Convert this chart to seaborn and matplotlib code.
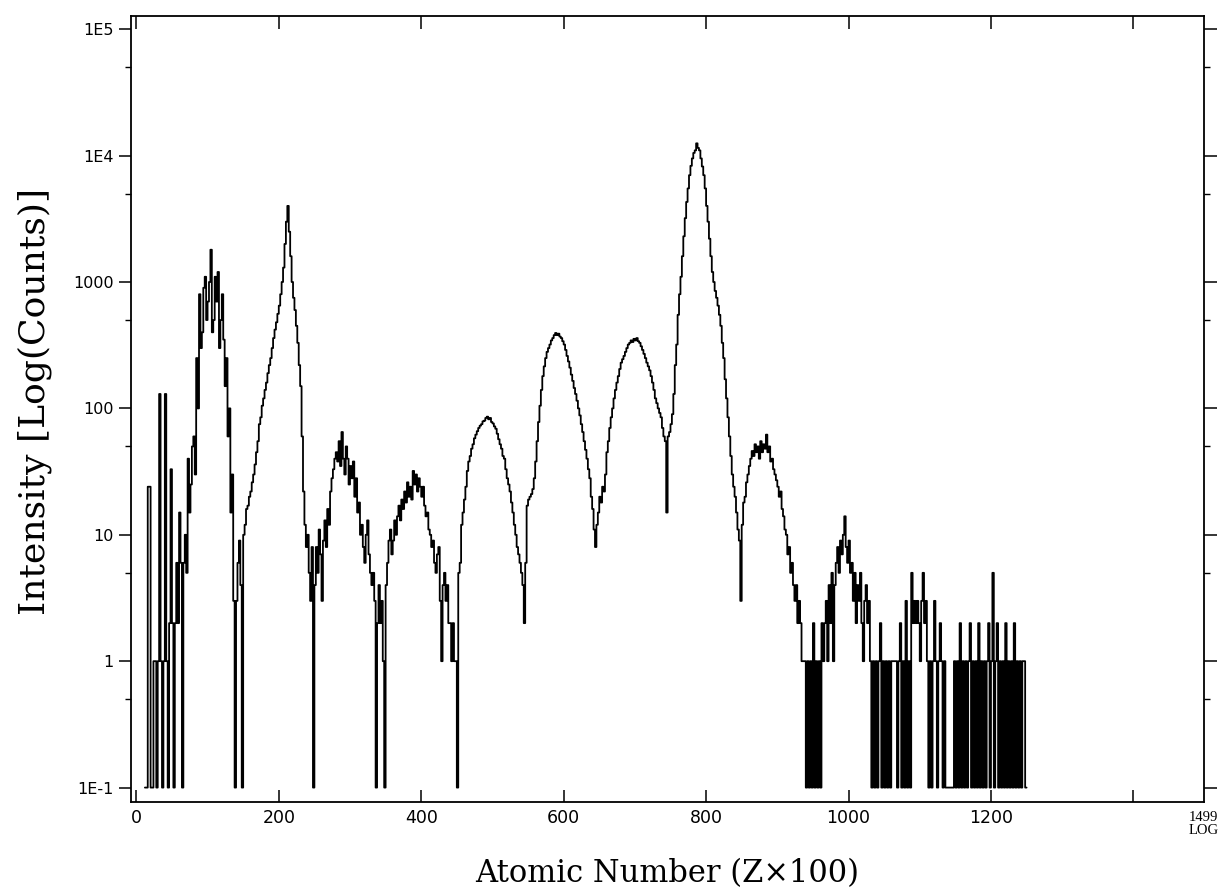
import numpy as np
import pandas as pd
import seaborn as sns
import matplotlib.pyplot as plt
from matplotlib.ticker import LogLocator, FixedLocator, NullLocator
from matplotlib.transforms import blended_transform_factory

# spectrum counts in 2-channel bins starting at channel 12 (0 counts sit on the 1E-1 floor)
CHANNEL_START = 12
BIN_WIDTH = 2
counts_0 = [0, 0, 24, 24, 0, 0, 1, 1, 0, 1, 130, 1, 0, 1, 130, 1, 0, 2, 33, 2,
            0, 2, 6, 2, 15, 6, 0, 6, 10, 5, 40, 15, 25, 50, 60, 30, 250, 100, 800, 300,
            400, 900, 1100, 500, 700, 1000, 1800, 400, 500, 1100]                   # ch 12-110
counts_1 = [700, 1200, 300, 500, 800, 350, 150, 250, 60, 100, 15, 30, 3, 0, 3, 6, 9, 4, 0, 10,
            12, 16, 17, 20, 22, 26, 30, 36, 45, 55, 75, 85, 105, 120, 140, 160, 190, 220, 250, 300,
            360, 420, 480, 560, 650, 800, 1000, 1300, 2000, 3000]                   # ch 112-210
counts_2 = [4000, 2500, 1600, 1000, 750, 600, 450, 330, 220, 150, 60, 22, 12, 8, 10, 5, 3, 8, 0, 4,
            8, 5, 11, 7, 3, 9, 13, 8, 16, 12, 22, 28, 33, 40, 45, 38, 55, 35, 65, 40,
            30, 50, 40, 25, 35, 28, 38, 20, 28, 15]                                 # ch 212-310
counts_3 = [18, 10, 12, 8, 6, 10, 13, 7, 5, 4, 5, 3, 0, 2, 4, 2, 3, 1, 0, 4,
            6, 9, 11, 7, 9, 13, 10, 14, 17, 13, 19, 16, 22, 18, 26, 20, 24, 19, 32, 25,
            30, 22, 28, 24, 20, 24, 17, 14, 15, 11]                                 # ch 312-410
counts_4 = [10, 8, 9, 6, 5, 7, 8, 3, 1, 4, 5, 3, 4, 2, 2, 1, 2, 1, 1, 0,
            5, 6, 12, 15, 19, 24, 32, 38, 42, 48, 52, 58, 62, 66, 70, 73, 75, 79, 80, 84,
            86, 82, 84, 78, 76, 72, 69, 63, 57, 52]                                 # ch 412-510
counts_5 = [48, 42, 40, 33, 28, 25, 22, 18, 15, 12, 10, 8, 7, 6, 5, 4, 2, 6, 17, 19,
            20, 21, 23, 28, 38, 55, 78, 105, 140, 180, 215, 250, 280, 300, 320, 345, 360, 380, 395, 380,
            390, 370, 360, 340, 320, 290, 260, 235, 210, 185]                       # ch 512-610
counts_6 = [165, 145, 130, 115, 100, 88, 75, 65, 55, 47, 40, 33, 28, 20, 16, 11, 8, 12, 15, 20,
            18, 24, 22, 30, 45, 55, 70, 85, 100, 120, 140, 160, 180, 205, 230, 245, 260, 280, 300, 320,
            330, 345, 335, 355, 345, 360, 340, 330, 310, 290]                       # ch 612-710
counts_7 = [270, 250, 230, 215, 200, 180, 160, 140, 120, 110, 100, 92, 85, 70, 60, 55, 15, 60, 65, 75,
            90, 130, 220, 320, 550, 800, 1100, 1600, 2300, 3200, 4300, 5500, 7000, 8300, 9500, 10500,
            11000, 12500, 11500, 11000, 9500, 8200, 7000, 5500, 4000, 3000, 2200, 1600, 1200, 1000]  # ch 712-810
counts_8 = [850, 750, 650, 550, 450, 330, 250, 170, 120, 85, 60, 42, 30, 24, 20, 15, 11, 9, 3, 12,
            18, 20, 26, 30, 35, 40, 46, 42, 52, 45, 50, 40, 55, 45, 52, 48, 62, 45, 50, 38,
            40, 33, 30, 27, 24, 20, 22, 16, 14, 11]                                 # ch 812-910
counts_9 = [10, 7, 8, 5, 6, 4, 3, 4, 2, 3, 2, 1, 1, 1, 0, 1, 0, 1, 0, 2,
            0, 1, 0, 1, 0, 2, 1, 2, 3, 1, 4, 2, 5, 1, 4, 6, 8, 5, 9, 7,
            10, 14, 8, 6, 9, 5, 6, 3, 5, 2]                                         # ch 912-1010
counts_10 = [4, 3, 5, 2, 1, 3, 4, 2, 3, 1, 0, 1, 0, 1, 0, 1, 2, 0, 1, 0,
             1, 0, 1, 0, 1, 1, 1, 1, 0, 1, 2, 0, 1, 0, 3, 0, 1, 0, 5, 2,
             3, 2, 3, 2, 1, 3, 5, 2, 3, 1]                                          # ch 1012-1110
counts_11 = [0, 1, 0, 1, 3, 1, 0, 1, 2, 1, 0, 1, 0, 0, 0, 0, 0, 0, 1, 0,
             1, 0, 2, 0, 1, 0, 1, 0, 1, 2, 0, 1, 0, 1, 0, 2, 0, 1, 0, 1,
             0, 1, 2, 0, 1, 5, 0, 1, 2, 0]                                          # ch 1112-1210
counts_12 = [1, 0, 1, 0, 2, 0, 1, 0, 1, 0, 2, 0, 1, 0, 1, 0, 1, 1, 0, 0]          # ch 1212-1250

x_ticks = [0, 200, 400, 600, 800, 1000, 1200, 1400]
x_tick_labels = ["0", "200", "400", "600", "800", "1000", "1200", ""]
y_ticks = [1e-1, 1, 10, 100, 1000, 1e4, 1e5]
y_tick_labels = ["1E-1", "1", "10", "100", "1000", "1E4", "1E5"]

counts = (counts_0 + counts_1 + counts_2 + counts_3 + counts_4 + counts_5 + counts_6
          + counts_7 + counts_8 + counts_9 + counts_10 + counts_11 + counts_12)
channels = CHANNEL_START + BIN_WIDTH * np.arange(len(counts))
df = pd.DataFrame({"channel": channels, "counts": counts})
df["plotted"] = df["counts"].where(df["counts"] > 0, 0.1)

sns.set_style("ticks")
plt.rcParams["font.family"] = ["DejaVu Sans"]
for key in ["text.color", "axes.labelcolor", "xtick.color", "ytick.color", "axes.edgecolor"]:
    plt.rcParams[key] = "black"

fig = plt.figure(figsize=(12.21, 8.94), dpi=100)
ax = fig.add_axes([0.107, 0.103, 0.879, 0.879])
ax.set_yscale("log")

sns.lineplot(data=df, x="channel", y="plotted", estimator=None, color="black",
             linewidth=1.3, drawstyle="steps-post", ax=ax)

ax.set_xlim(-8, 1499)
ax.set_ylim(0.077, 1.27e5)

ax.xaxis.set_major_locator(FixedLocator(x_ticks))
ax.set_xticklabels(x_tick_labels)
ax.xaxis.set_minor_locator(NullLocator())
ax.yaxis.set_major_locator(FixedLocator(y_ticks))
ax.set_yticklabels(y_tick_labels)
ax.yaxis.set_minor_locator(LogLocator(base=10, subs=(5,)))

ax.tick_params(axis="x", which="major", direction="in", length=9, width=1.1,
               top=True, bottom=True, labelsize=12.5, pad=5)
ax.tick_params(axis="y", which="major", direction="out", length=9, width=1.1,
               left=True, right=True, labelsize=11.5, pad=3)
ax.tick_params(axis="y", which="minor", direction="out", length=4, width=1.0,
               left=True, right=True)

for spine in ax.spines.values():
    spine.set_visible(True)
    spine.set_linewidth(1.3)

ax.set_xlabel("Atomic Number (Z×100)", family="DejaVu Serif", fontsize=22)
ax.set_ylabel("Intensity [Log(Counts)]", family="DejaVu Serif", fontsize=26)
ax.xaxis.set_label_coords(0.50, -0.072)
ax.yaxis.set_label_coords(-0.073, 0.509)

trans = blended_transform_factory(ax.transData, ax.transAxes)
ax.text(1499, -0.012, "1499\nLOG", transform=trans, ha="center", va="top",
        family="Liberation Serif", fontsize=10.5, linespacing=1.0)

fig.savefig("out.png", dpi=100)
